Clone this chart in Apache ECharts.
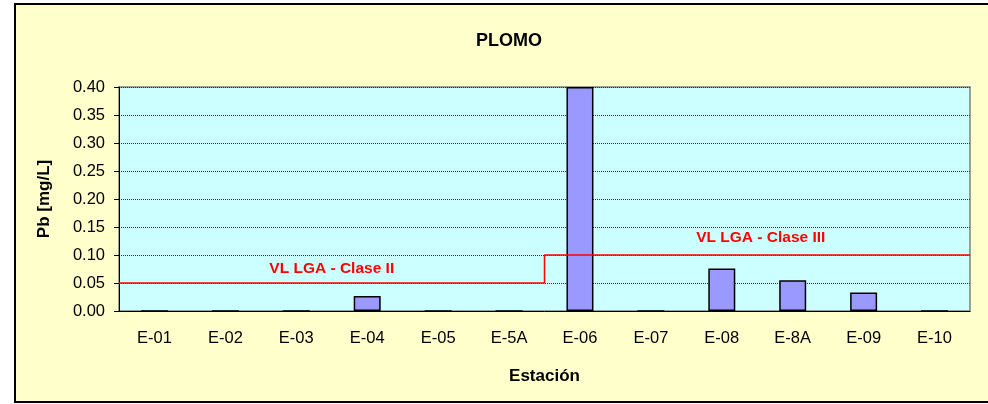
<!DOCTYPE html>
<html>
<head>
<meta charset="utf-8">
<script src="https://cdn.jsdelivr.net/npm/echarts@6/dist/echarts.min.js"></script>
<style>
  html, body { margin: 0; padding: 0; background: #fff; }
  #chart { width: 988px; height: 404px; }
</style>
</head>
<body>
<div id="chart"></div>
<script>
  // estaciones de muestreo y plomo medido (mg/L)
  const estaciones = ['E-01', 'E-02', 'E-03', 'E-04', 'E-05', 'E-5A', 'E-06', 'E-07', 'E-08', 'E-8A', 'E-09', 'E-10'];
  const plomo = [0, 0, 0, 0.027, 0, 0, 0.40, 0, 0.076, 0.055, 0.033, 0];

  // valor limite LGA (escalon entre E-5A y E-06)
  const limiteX = [0, 6, 6, 12];
  const limiteY = [0.05, 0.05, 0.1, 0.1];
  const limiteTextos = ['VL LGA - Clase II', 'VL LGA - Clase III'];
  const limiteTextoX = [3, 9.05];
  const limiteTextoY = [0.075, 0.130];

  const yTicks = [0, 0.4, 0.05];

  const font = "'Liberation Sans', Arial, sans-serif";
  const dom = echarts.init(document.getElementById('chart'));

  let limiteData = limiteX.map(function (x, i) { return [x, limiteY[i]]; });
  let textoData = limiteTextos.map(function (t, i) {
    return { value: [limiteTextoX[i], limiteTextoY[i]], name: t };
  });

  let option = {
    backgroundColor: '#ffffff',
    animation: false,
    graphic: [{
      type: 'rect',
      z: -100,
      silent: true,
      shape: { x: 15, y: 4, width: 990, height: 398 },
      style: { fill: '#FFFFCC', stroke: '#000', lineWidth: 2 }
    }],
    title: {
      text: 'PLOMO',
      left: 504,
      top: 27,
      textAlign: 'center',
      textStyle: { fontFamily: font, fontSize: 18, fontWeight: 'bold', color: '#000' }
    },
    grid: {
      left: 119,
      right: 18,
      top: 87,
      bottom: 93,
      show: true,
      backgroundColor: '#CCFFFF',
      borderColor: '#808080',
      borderWidth: 1.5
    },
    xAxis: [{
      type: 'category',
      data: estaciones,
      name: 'Estación',
      nameLocation: 'middle',
      nameGap: 57,
      nameTextStyle: { fontFamily: font, fontSize: 17, fontWeight: 'bold', color: '#000' },
      axisLine: { lineStyle: { color: '#000', width: 1 } },
      axisTick: { length: 5, lineStyle: { color: '#000' } },
      axisLabel: { fontFamily: font, fontSize: 16.5, color: '#000', margin: 19 }
    }, {
      type: 'value',
      min: 0,
      max: 12,
      show: false
    }],
    yAxis: {
      type: 'value',
      min: yTicks[0],
      max: yTicks[1],
      interval: yTicks[2],
      name: 'Pb [mg/L]',
      nameLocation: 'middle',
      nameGap: 66,
      nameTextStyle: { fontFamily: font, fontSize: 17, fontWeight: 'bold', color: '#000' },
      axisLine: { show: true, lineStyle: { color: '#000', width: 1 } },
      axisTick: { show: true, length: 5, lineStyle: { color: '#000' } },
      axisLabel: {
        fontFamily: font, fontSize: 16.5, color: '#000', margin: 14,
        formatter: function (v) { return v.toFixed(2); }
      },
      splitLine: { show: true, lineStyle: { type: 'dotted', color: '#333', width: 1 } }
    },
    series: [{
      name: 'Pb',
      type: 'bar',
      data: plomo,
      barWidth: 27,
      itemStyle: { color: '#9999FF', borderColor: '#000', borderWidth: 1.5 }
    }, {
      name: 'VL LGA',
      type: 'line',
      xAxisIndex: 1,
      data: limiteData,
      symbol: 'none',
      lineStyle: { color: '#FF0000', width: 1.5 },
      z: 3
    }, {
      name: 'VL LGA texto',
      type: 'scatter',
      xAxisIndex: 1,
      data: textoData,
      symbolSize: 1,
      itemStyle: { color: 'rgba(0,0,0,0)', opacity: 1 },
      z: 4,
      label: {
        show: true,
        position: 'inside',
        formatter: '{b}',
        fontFamily: font,
        fontSize: 15.5,
        fontWeight: 'bold',
        color: '#FF0000',
        textBorderWidth: 0
      }
    }]
  };

  dom.setOption(option);
</script>
</body>
</html>
